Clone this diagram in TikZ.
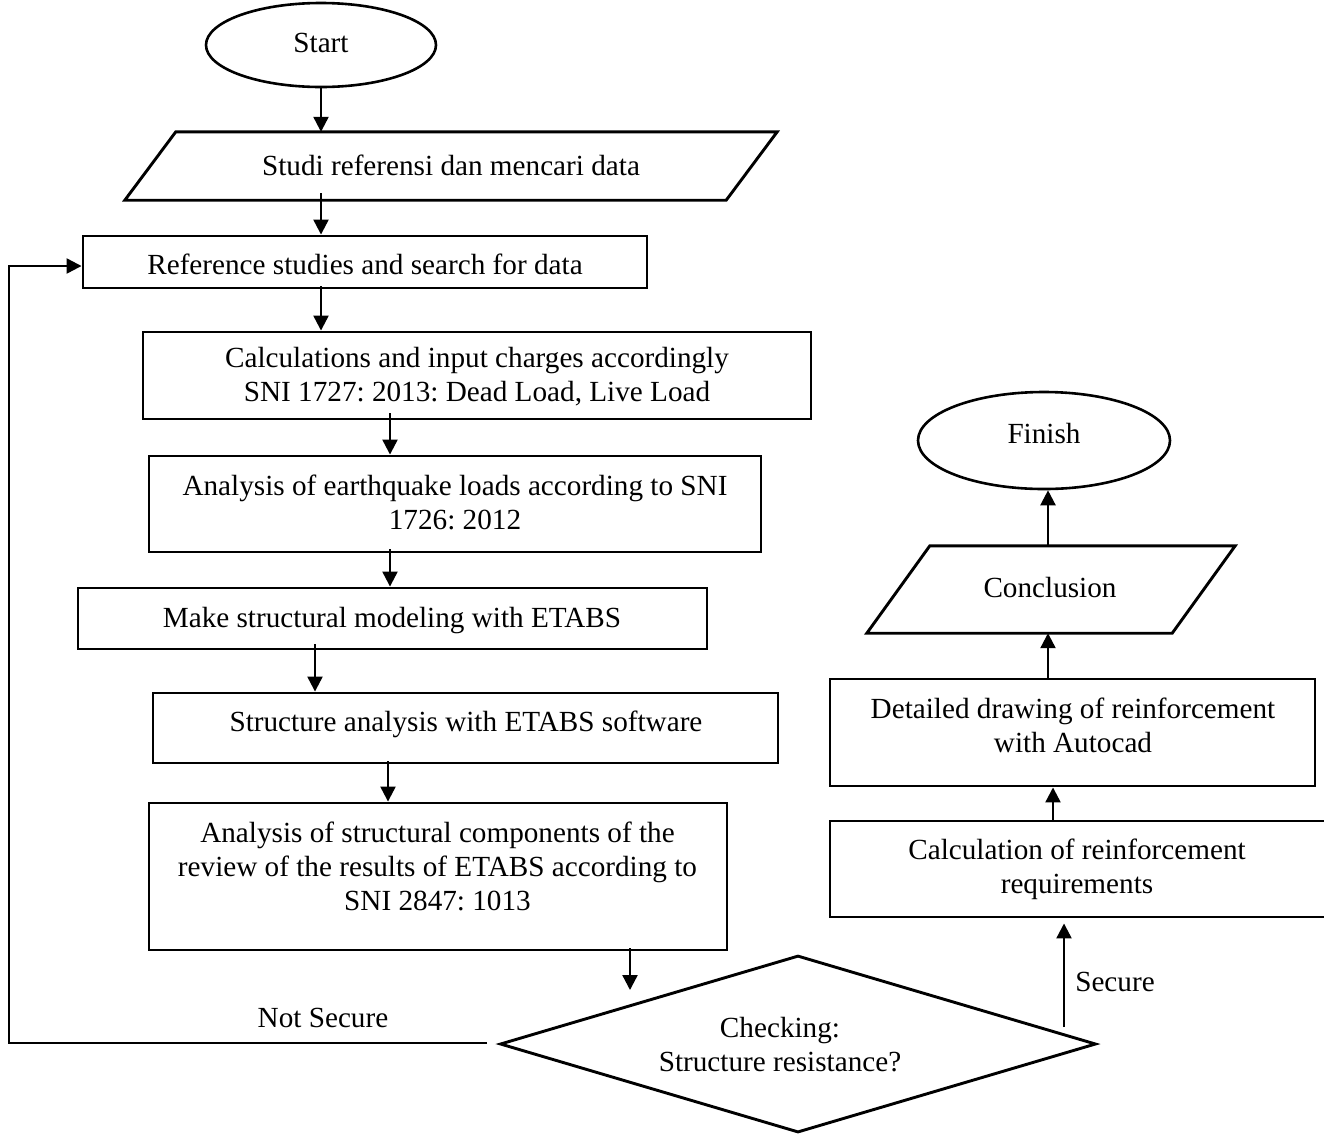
\documentclass[tikz,border=0pt]{standalone}
\usepackage{fontspec}
\setmainfont{Liberation Serif}
\usetikzlibrary{shapes.geometric,arrows.meta,calc}
\newcommand\diagfont{\fontsize{29.2}{34}\selectfont\frenchspacing}
\begin{document}
\begin{tikzpicture}[x=1pt,y=-1pt,
  box/.style={draw, line width=2.9pt, inner sep=0pt, rectangle},
  term/.style={draw, ellipse, line width=2.6pt, inner sep=0pt},
  hold/.style={inner sep=0pt, rectangle},
  txt/.style={font=\diagfont, align=center, inner sep=0pt},
  oneline/.style={text height=20.4pt, text depth=6.4pt},
  arr/.style={line width=2.3pt, -{Triangle[length=15pt,width=15pt]}},
  pline/.style={line width=2.9pt, line join=miter},
]
\useasboundingbox[fill=white] (0,0) rectangle (1324,1133);

% column coordinates
\coordinate (c321) at (321,0);
\coordinate (c390) at (390,0);
\coordinate (c315) at (315,0);
\coordinate (c388) at (388,0);
\coordinate (c630) at (630,0);
\coordinate (c1053) at (1053,0);
\coordinate (c1048) at (1048,0);
\coordinate (lx) at (9,0);

% left column
\node[term, minimum width=230pt, minimum height=84pt, font=\diagfont, oneline] (st) at (321,45) {Start};

\node[hold, minimum width=652pt, minimum height=68pt] (p1) at (451,166) {};
\draw[pline] ($(p1.north west)+(51,0)$) -- (p1.north east) -- ($(p1.south east)+(-51,0)$) -- (p1.south west) -- cycle;
\node[txt, oneline] (t1) at (451,168) {Studi referensi dan mencari data};

\node[box, minimum width=564pt, minimum height=52pt] (ref) at (365,262) {};
\node[txt, oneline] (t2) at (365,267) {Reference studies and search for data};

\node[box, minimum width=668pt, minimum height=87pt] (calc) at (477,375.5) {};
\node[txt] (t3) at (477,377) {Calculations and input charges accordingly\\SNI 1727: 2013: Dead Load, Live Load};

\node[box, minimum width=612pt, minimum height=96pt] (eq) at (455,504) {};
\node[txt] (t4) at (455,502) {Analysis of earthquake loads according to SNI\\1726: 2012};

\node[box, minimum width=629pt, minimum height=61pt] (mk) at (392.5,618.5) {};
\node[txt, oneline] (t5) at (392,620) {Make structural modeling with ETABS};

\node[box, minimum width=625pt, minimum height=70pt] (sa) at (465.5,728) {};
\node[txt, oneline] (t6) at (466,724) {Structure analysis with ETABS software};

\node[box, minimum width=578pt, minimum height=147pt] (sc) at (438,876.5) {};
\node[txt] (t7) at (437.5,866) {Analysis of structural components of the\\review of the results of ETABS according to\\SNI 2847: 1013};

% decision
\node[draw, diamond, line width=2.9pt, inner sep=0pt, minimum width=596pt, minimum height=177pt] (dia) at (798,1044) {};
\node[txt] (t8) at (780,1045) {Checking:\\Structure resistance?};

% right column
\node[box, minimum width=500pt, minimum height=96pt] (crq) at (1080,869) {};
\node[txt] (t9) at (1077,869) {Calculation of reinforcement\\requirements};

\node[box, minimum width=485pt, minimum height=107pt] (det) at (1072.5,732.5) {};
\node[txt] (t10) at (1073,725) {Detailed drawing of reinforcement\\with Autocad};

\node[hold, minimum width=368pt, minimum height=87pt] (p2) at (1051,589.5) {};
\draw[pline] ($(p2.north west)+(63,0)$) -- (p2.north east) -- ($(p2.south east)+(-63,0)$) -- (p2.south west) -- cycle;
\node[txt, oneline] (t11) at (1050,590) {Conclusion};

\node[term, minimum width=252pt, minimum height=97pt] (fin) at (1044,440.5) {};
\node[txt, oneline] (t12) at (1044,436) {Finish};

% labels
\node[txt, oneline] (ns) at (323,1020) {Not Secure};
\node[txt, oneline] (sec) at (1115,984) {Secure};

% connectors
\draw[arr] (st.south -| c321) -- (p1.north -| c321);
\draw[arr, shorten <=-7pt] (p1.south -| c321) -- (ref.north -| c321);
\draw[arr, shorten <=-3pt] (ref.south -| c321) -- (calc.north -| c321);
\draw[arr, shorten <=-7pt] (calc.south -| c390) -- (eq.north -| c390);
\draw[arr, shorten <=-4pt] (eq.south -| c390) -- (mk.north -| c390);
\draw[arr, shorten <=-6pt] (mk.south -| c315) -- (sa.north -| c315);
\draw[arr, shorten <=-3pt] (sa.south -| c388) -- (sc.north -| c388);
\coordinate (dtip) at (630,990);
\draw[arr, shorten <=-3pt] (sc.south -| c630) -- (dtip);

\coordinate (nsA) at (487,1043);
\coordinate (refin) at ($(ref.west)+(0,4)$);
\draw[arr] (nsA) -- (nsA -| lx) |- (refin);

\coordinate (sA) at (1064,1027);
\draw[arr, shorten >=5pt] (sA) -- (sA |- crq.south);
\draw[arr] (crq.north -| c1053) -- (det.south -| c1053);
\draw[arr] (det.north -| c1048) -- (p2.south -| c1048);
\draw[arr] (p2.north -| c1048) -- (fin.south -| c1048);
\end{tikzpicture}
\end{document}
